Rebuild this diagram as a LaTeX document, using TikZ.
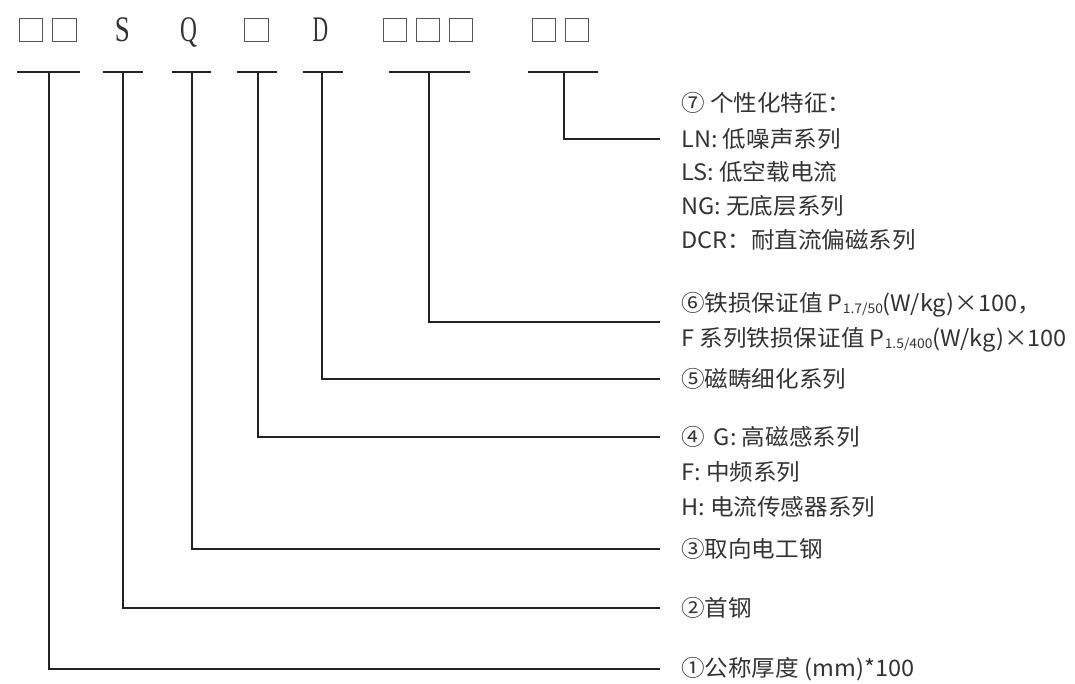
\documentclass[tikz,border=0pt]{standalone}
\usepackage{fontspec}
\usepackage{graphicx}
\setmainfont{Noto Sans CJK SC}[FakeStretch=1.04]
\newfontfamily\hdrfont{Liberation Serif}
\definecolor{ink}{HTML}{333333}
\definecolor{linec}{HTML}{222222}
\definecolor{boxc}{HTML}{555555}
\newcommand{\sbs}[1]{{\fontsize{10}{10}\selectfont\raisebox{-0.35ex}{#1}}}
\begin{document}
\begin{tikzpicture}[x=0.75pt,y=-0.75pt,
  lbl/.style={anchor=west,inner sep=0pt,font=\fontsize{17}{26}\selectfont,text=ink},
  sq/.style={draw=boxc,line width=0.9pt,minimum width=17.5pt,minimum height=17.5pt,inner sep=0pt},
  hd/.style={anchor=base,inner sep=0pt,font=\hdrfont\fontsize{27}{27}\selectfont,text=ink},
  bar/.style={line width=1.4pt,draw=linec},
  conn/.style={line width=1.4pt,draw=linec}]
\useasboundingbox (0,0) rectangle (1075,684);
% header
\node[sq] (b1) at (31,30) {};
\node[sq] (b2) at (64.5,30) {};
\node[hd] (hs) at (122.5,42) {\scalebox{0.75}[1]{S}};
\node[hd] (hq) at (188.5,42) {\scalebox{0.65}[1]{Q}};
\node[sq] (b3) at (256.5,30) {};
\node[hd] (hdd) at (320.5,42) {\scalebox{0.6}[1]{D}};
\node[sq] (b4) at (395,30) {};
\node[sq] (b5) at (428,30) {};
\node[sq] (b6) at (461,30) {};
\node[sq] (b7) at (544,30) {};
\node[sq] (b8) at (577,30) {};
% bars
\draw[bar] (17,72) -- (80,72);
\draw[bar] (103,72) -- (143,72);
\draw[bar] (172,72) -- (211,72);
\draw[bar] (237,72) -- (277,72);
\draw[bar] (303,72) -- (343,72);
\draw[bar] (389,72) -- (470,72);
\draw[bar] (528,72) -- (598,72);
\coordinate (t1) at (49,72);
\coordinate (t2) at (123,72);
\coordinate (t3) at (192,72);
\coordinate (t4) at (258,72);
\coordinate (t5) at (322,72);
\coordinate (t6) at (429,72);
\coordinate (t7) at (564,72);
% labels
\node[lbl] (l7a) at (681,103) {⑦ 个性化特征：};
\node[lbl] (l7b) at (681,139) {LN: 低噪声系列};
\node[lbl] (l7c) at (681,172) {LS: 低空载电流};
\node[lbl] (l7d) at (681,206) {NG: 无底层系列};
\node[lbl] (l7e) at (681,240) {DCR：耐直流偏磁系列};
\node[lbl,align=left] (l6) at (681,322) {⑥铁损保证值 P\sbs{1.7/50}(W/kg)×100，\\F 系列铁损保证值 P\sbs{1.5/400}(W/kg)×100};
\node[lbl] (l5) at (681,379) {⑤磁畴细化系列};
\node[lbl] (l4a) at (681,437) {④ \,G: 高磁感系列};
\node[lbl] (l4b) at (681,472) {F: 中频系列};
\node[lbl] (l4c) at (681,507) {H: 电流传感器系列};
\node[lbl] (l3) at (681,549) {③取向电工钢};
\node[lbl] (l2) at (681,608) {②首钢};
\node[lbl] (l1) at (681,669) {①公称厚度 (mm)*100};
% connectors
\draw[conn] (t7) |- ([xshift=-15.75pt]l7b.west);
\draw[conn] (t6) |- ([xshift=-15.75pt]l6.west);
\draw[conn] (t5) |- ([xshift=-15.75pt]l5.west);
\draw[conn] (t4) |- ([xshift=-15.75pt]l4a.west);
\draw[conn] (t3) |- ([xshift=-15.75pt]l3.west);
\draw[conn] (t2) |- ([xshift=-15.75pt]l2.west);
\draw[conn] (t1) |- ([xshift=-15.75pt]l1.west);
\end{tikzpicture}
\end{document}
